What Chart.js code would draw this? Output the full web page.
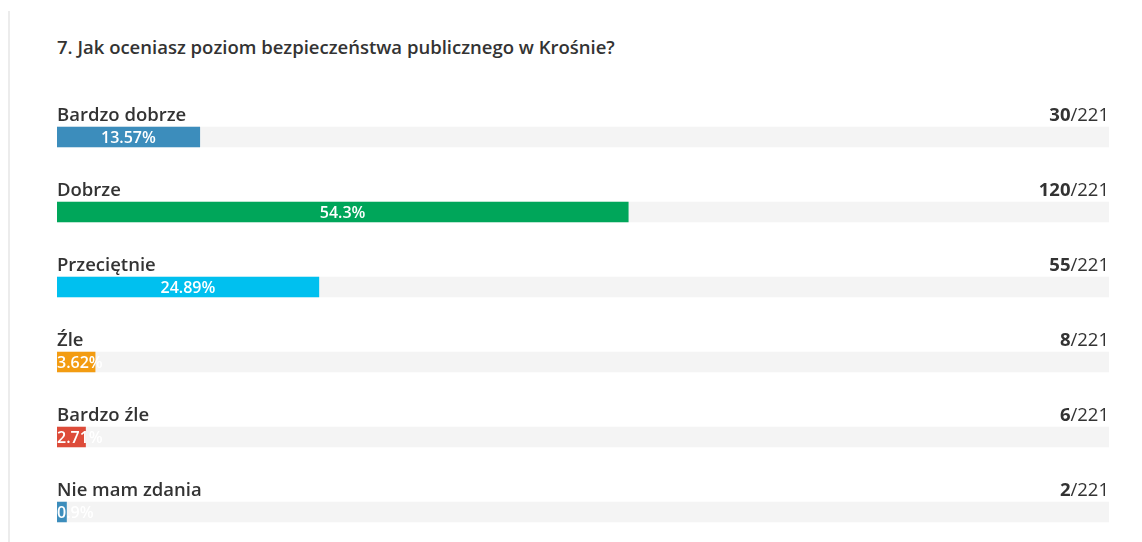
<!DOCTYPE html>
<html lang="pl">
<head>
  <meta charset="UTF-8" />
  <title>Jak oceniasz poziom bezpieczeństwa publicznego w Krośnie?</title>
  <script src="https://cdn.jsdelivr.net/npm/chart.js"></script>
  <style>
    html, body { margin: 0; padding: 0; background: #fff; overflow: hidden; }
    body { width: 1142px; height: 542px; position: relative; font-family: "Open Sans", sans-serif; }
    .border-left { position: absolute; left: 8px; top: 11px; width: 2px; height: 540px; background: #ececec; }
    h3 { position: absolute; left: 57px; top: 34px; margin: 0; font-size: 18.5px; line-height: 26px; font-weight: 600; color: #333; white-space: nowrap; }
    #wrap { position: absolute; left: 0; top: 0; width: 1142px; height: 560px; }
  </style>
</head>
<body>
  <div class="border-left"></div>
  <h3>7. Jak oceniasz poziom bezpieczeństwa publicznego w Krośnie?</h3>
  <div id="wrap"><canvas id="chart"></canvas></div>
  <script>
    const answers = ['Bardzo dobrze', 'Dobrze', 'Przeciętnie', 'Źle', 'Bardzo źle', 'Nie mam zdania'];
    const counts = [30, 120, 55, 8, 6, 2];
    const total = 221;
    const percents = [13.57, 54.3, 24.89, 3.62, 2.71, 0.9];
    const barColors = ['#3c8dbc', '#00a65a', '#00c0ef', '#f39c12', '#dd4b39', '#3c8dbc'];
    const trackValues = [100, 100, 100, 100, 100, 100];

    const labelsPlugin = {
      id: 'rowLabels',
      afterDatasetsDraw(chart) {
        const ctx = chart.ctx;
        const area = chart.chartArea;
        const meta = chart.getDatasetMeta(0);
        ctx.save();
        meta.data.forEach((bar, i) => {
          const top = bar.y - bar.height / 2;
          const base = top - 6;

          // answer label
          ctx.fillStyle = '#333';
          ctx.textBaseline = 'alphabetic';
          ctx.textAlign = 'left';
          ctx.font = '600 18.5px "Open Sans"';
          ctx.fillText(answers[i], area.left, base);

          // count / total
          ctx.textAlign = 'right';
          ctx.font = '400 18.5px "Open Sans"';
          const rest = '/' + total;
          ctx.fillText(rest, area.right, base);
          const w = ctx.measureText(rest).width;
          ctx.font = '700 18.5px "Open Sans"';
          ctx.fillText(String(counts[i]), area.right - w, base);

          // percent text in bar
          ctx.font = '600 16px "Open Sans"';
          ctx.fillStyle = '#fff';
          ctx.textAlign = 'left';
          ctx.textBaseline = 'middle';
          const txt = percents[i] + '%';
          const tw = ctx.measureText(txt).width;
          const left = Math.min(bar.base, bar.x);
          const center = (bar.base + bar.x) / 2;
          ctx.fillText(txt, Math.max(left, center - tw / 2), bar.y + 1);
        });
        ctx.restore();
      }
    };

    new Chart(document.getElementById('chart'), {
      type: 'bar',
      data: {
        labels: answers,
        datasets: [
          {
            data: percents,
            backgroundColor: barColors,
            barThickness: 20,
            grouped: false,
            order: 1
          },
          {
            data: trackValues,
            backgroundColor: '#f4f4f4',
            barThickness: 20,
            grouped: false,
            order: 2
          }
        ]
      },
      options: {
        indexAxis: 'y',
        responsive: true,
        maintainAspectRatio: false,
        animation: false,
        layout: { padding: { left: 57, right: 33, top: 99.5, bottom: 10.5 } },
        scales: {
          x: { display: false, min: 0, max: 100 },
          y: { display: false }
        },
        plugins: {
          legend: { display: false },
          tooltip: { enabled: false }
        }
      },
      plugins: [labelsPlugin]
    });
  </script>
</body>
</html>
